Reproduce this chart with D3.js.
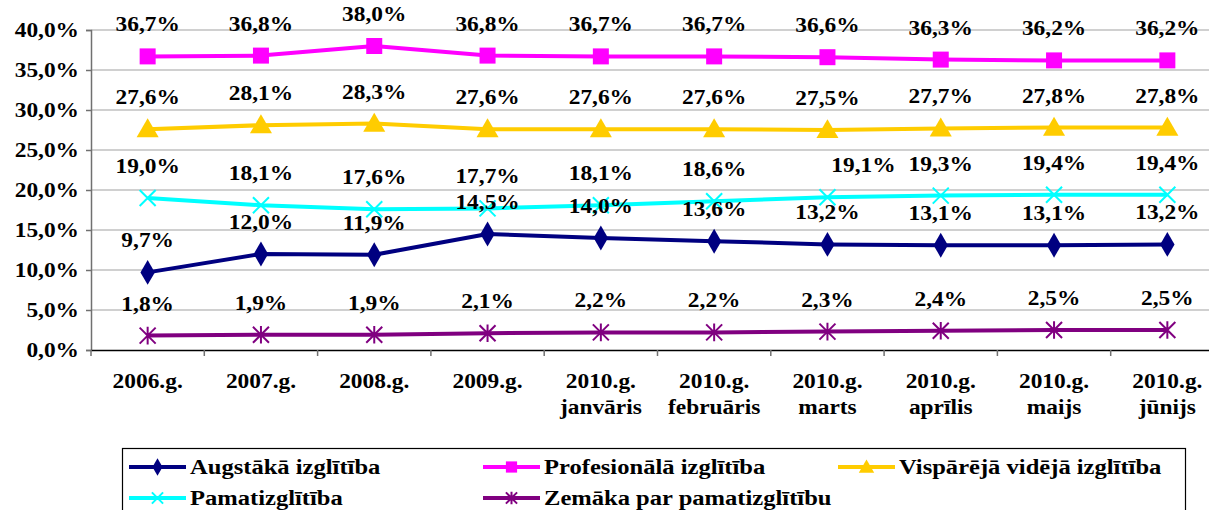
<!DOCTYPE html>
<html>
<head>
<meta charset="utf-8">
<script src="https://cdn.jsdelivr.net/npm/d3@7"></script>
<style>
html,body{margin:0;padding:0;background:#fff;}
svg{display:block;}
</style>
</head>
<body>
<svg id="chart" width="1209" height="510"></svg>
<script>
const categories = [
  ["2006.g."], ["2007.g."], ["2008.g."], ["2009.g."],
  ["2010.g.", "janvāris"], ["2010.g.", "februāris"], ["2010.g.", "marts"],
  ["2010.g.", "aprīlis"], ["2010.g.", "maijs"], ["2010.g.", "jūnijs"]
];
const yTicks = [0, 5, 10, 15, 20, 25, 30, 35, 40];
const seriesNames = [
  "Augstākā izglītība", "Profesionālā izglītība", "Vispārējā vidējā izglītība",
  "Pamatizglītība", "Zemāka par pamatizglītību"
];
const augstaka = [9.7, 12.0, 11.9, 14.5, 14.0, 13.6, 13.2, 13.1, 13.1, 13.2];
const profesionala = [36.7, 36.8, 38.0, 36.8, 36.7, 36.7, 36.6, 36.3, 36.2, 36.2];
const visparejaVideja = [27.6, 28.1, 28.3, 27.6, 27.6, 27.6, 27.5, 27.7, 27.8, 27.8];
const pamatizglitiba = [19.0, 18.1, 17.6, 17.7, 18.1, 18.6, 19.1, 19.3, 19.4, 19.4];
const zemaka = [1.8, 1.9, 1.9, 2.1, 2.2, 2.2, 2.3, 2.4, 2.5, 2.5];

const seriesValues = [augstaka, profesionala, visparejaVideja, pamatizglitiba, zemaka];
const colors = ["#000080", "#FF00FF", "#FFCC00", "#00FFFF", "#800080"];
const markers = ["diamond", "square", "triangle", "x", "star"];

const svg = d3.select("#chart");
const plotLeft = 91, bandW = 113.3, plotTop = 30, plotBottom = 350;
const catKeys = categories.map((c, i) => i);
const x = d3.scaleBand().domain(catKeys).range([plotLeft, plotLeft + bandW * categories.length]);
const y = d3.scaleLinear().domain([0, 40]).range([plotBottom, plotTop]);
const SX = 1.17;
const FONT = "'Liberation Serif', 'Times New Roman', 'DejaVu Serif', serif";
const fmt = v => v.toFixed(1).replace(".", ",") + "%";

function stext(g, tx, ty, str, anchor, size) {
  return g.append("text")
    .attr("transform", `translate(${tx},${ty}) scale(${SX},1)`)
    .attr("text-anchor", anchor)
    .attr("font-family", FONT)
    .attr("font-weight", "bold")
    .attr("fill", "#000")
    .style("font-family", FONT)
    .style("font-weight", "bold")
    .style("font-size", size + "px")
    .text(str);
}

// gridlines
svg.append("g").selectAll("line").data(yTicks.filter(t => t > 0)).join("line")
  .attr("x1", plotLeft).attr("x2", 1209)
  .attr("y1", d => y(d)).attr("y2", d => y(d))
  .attr("stroke", "#c0c0c0").attr("stroke-width", 1.3);

// axes
const yAxis = d3.axisLeft(y).tickValues(yTicks).tickSize(5).tickFormat("");
const gy = svg.append("g").attr("transform", `translate(${plotLeft},0)`).call(yAxis);
gy.select(".domain").attr("stroke", "#707070").attr("stroke-width", 1.5);
gy.selectAll(".tick line").attr("stroke", "#707070").attr("stroke-width", 1.5);

const gx = svg.append("g").attr("transform", `translate(0,${plotBottom})`)
  .call(d3.axisBottom(x).tickSize(0).tickFormat(""));
gx.select(".domain").attr("stroke", "#000").attr("stroke-width", 1.5);
svg.append("g").selectAll("line").data(d3.range(categories.length + 1)).join("line")
  .attr("x1", i => plotLeft + i * x.bandwidth()).attr("x2", i => plotLeft + i * x.bandwidth())
  .attr("y1", plotBottom).attr("y2", plotBottom + 6)
  .attr("stroke", "#707070").attr("stroke-width", 1.5);

// y tick labels
const gyl = svg.append("g");
yTicks.forEach(t => stext(gyl, 79, y(t) + 7, fmt(t), "end", 20));

// x tick labels
const gxl = svg.append("g");
categories.forEach((c, i) => {
  c.forEach((ln, j) => stext(gxl, x(i) + x.bandwidth() / 2, 388 + j * 26, ln, "middle", 20));
});

// marker shapes
function drawMarker(g, type, cx, cy, color, s) {
  if (type === "diamond") {
    g.append("path").attr("d", d3.symbol(d3.symbolDiamond, s * s * 0.62)())
      .attr("transform", `translate(${cx},${cy})`).attr("fill", color);
  } else if (type === "square") {
    g.append("rect").attr("x", cx - s / 2).attr("y", cy - s / 2).attr("width", s).attr("height", s).attr("fill", color);
  } else if (type === "triangle") {
    const h = s * 0.95;
    g.append("path").attr("d", `M${cx},${cy - h * 0.6}L${cx + s * 0.58},${cy + h * 0.45}L${cx - s * 0.58},${cy + h * 0.45}Z`).attr("fill", color);
  } else if (type === "x") {
    const r = s / 2;
    g.append("path").attr("d", `M${cx - r},${cy - r}L${cx + r},${cy + r}M${cx - r},${cy + r}L${cx + r},${cy - r}`)
      .attr("stroke", color).attr("stroke-width", 2);
  } else if (type === "star") {
    const r = s / 2;
    g.append("path").attr("d", `M${cx - r},${cy - r}L${cx + r},${cy + r}M${cx - r},${cy + r}L${cx + r},${cy - r}M${cx},${cy - r * 1.1}L${cx},${cy + r * 1.1}`)
      .attr("stroke", color).attr("stroke-width", 2);
  }
}
const markerSize = [17, 16, 19, 16, 16];

// lines + markers
const lineGen = d3.line().x((d, i) => x(i) + x.bandwidth() / 2).y(d => y(d));
seriesValues.forEach((vals, si) => {
  const g = svg.append("g");
  g.append("path").datum(vals).attr("d", lineGen).attr("fill", "none")
    .attr("stroke", colors[si]).attr("stroke-width", 4).attr("stroke-linejoin", "round");
  vals.forEach((v, i) => drawMarker(g, markers[si], x(i) + x.bandwidth() / 2, y(v), colors[si], markerSize[si]));
});

// data labels
const labelDx = {"3-6": 36};
const gl = svg.append("g");
seriesValues.forEach((vals, si) => {
  vals.forEach((v, i) => {
    const dx = labelDx[si + "-" + i] || 0;
    stext(gl, x(i) + x.bandwidth() / 2 + dx, y(v) - 25, fmt(v), "middle", 20);
  });
});

// legend
const lg = svg.append("g");
lg.append("rect").attr("x", 122.5).attr("y", 448.5).attr("width", 1063).attr("height", 80)
  .attr("fill", "#fff").attr("stroke", "#000").attr("stroke-width", 1.2);
const legPos = [[129, 467], [483, 467], [838, 467], [129, 498], [483, 498]];
seriesNames.forEach((n, si) => {
  const [lx, ly] = legPos[si];
  lg.append("line").attr("x1", lx).attr("x2", lx + 57).attr("y1", ly).attr("y2", ly)
    .attr("stroke", colors[si]).attr("stroke-width", 4);
  drawMarker(lg, markers[si], lx + 28.5, ly, colors[si], markerSize[si] * 0.7);
  stext(lg, lx + 61, ly + 7, n, "start", 21);
});
</script>
</body>
</html>
